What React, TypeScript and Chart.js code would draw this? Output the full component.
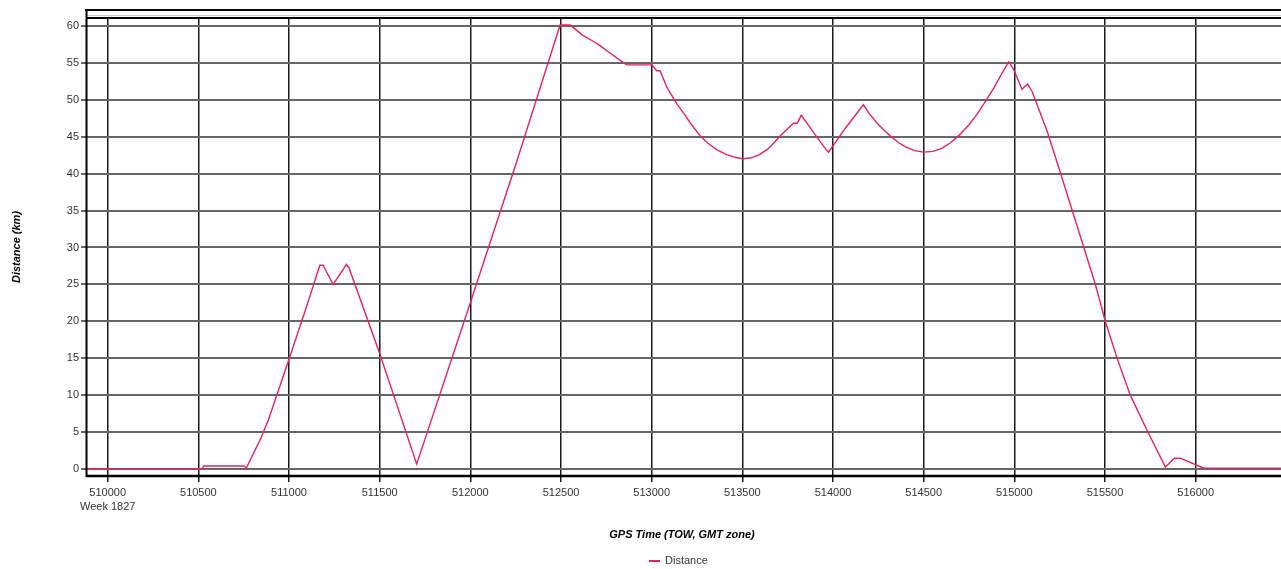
import React, { useEffect, useRef } from "react";
import { Chart, registerables } from "chart.js";

Chart.register(...registerables);

const gpsTime: number[] = [
  509880, 510520, 510530, 510750, 510765, 510839, 510885, 511004, 511090, 511170,
  511188, 511243, 511317, 511330, 511501, 511704, 511998, 512250, 512495, 512550,
  512580, 512620, 512670, 512715, 512770, 512826, 512863, 513001, 513028, 513046,
  513083, 513110, 513140, 513175, 513220, 513267, 513310, 513360, 513410, 513460,
  513500, 513545, 513590, 513640, 513680, 513709, 513782, 513803, 513825, 513900,
  513966, 513975, 514070, 514168, 514200, 514240, 514280, 514316, 514360, 514400,
  514450, 514499, 514550, 514600, 514650, 514700, 514750, 514800, 514849, 514890,
  514930, 514969, 514996, 515042, 515073, 515098, 515180, 515254, 515318, 515382,
  515447, 515502, 515567, 515640, 515741, 515833, 515883, 515915, 516045, 516470,
];

const distanceKm: number[] = [
  0.05, 0.05, 0.45, 0.45, 0.2, 3.9, 6.6, 15.2, 21.5, 27.6,
  27.6, 25.0, 27.7, 27.3, 15.6, 0.7, 22.4, 41.2, 60.1, 60.1,
  59.5, 58.7, 58.0, 57.3, 56.3, 55.3, 54.7, 54.7, 53.9, 53.9,
  51.7, 50.6, 49.4, 48.2, 46.6, 45.1, 44.1, 43.2, 42.6, 42.2,
  42.0, 42.1, 42.5, 43.3, 44.3, 45.1, 46.8, 46.8, 47.9, 45.3,
  43.1, 42.9, 46.2, 49.3, 48.1, 46.9, 45.9, 45.1, 44.2, 43.6,
  43.1, 42.9, 43.0, 43.4, 44.2, 45.3, 46.6, 48.2, 50.1, 51.7,
  53.5, 55.1, 54.1, 51.4, 52.1, 51.1, 45.8, 40.1, 35.1, 30.1,
  25.0, 20.0, 15.0, 10.0, 4.8, 0.3, 1.5, 1.5, 0.15, 0.15,
];

const xTicks: number[] = [510000, 510500, 511000, 511500, 512000, 512500, 513000, 513500, 514000, 514500, 515000, 515500, 516000];
const yTicks: number[] = [0, 5, 10, 15, 20, 25, 30, 35, 40, 45, 50, 55, 60];

const weekLabel = "Week 1827";
const xTitle = "GPS Time (TOW, GMT zone)";
const yTitle = "Distance (km)";
const seriesName = "Distance";
const lineColor = "#e0245e";

const W = 1281;
const H = 569;

const framePlugin = {
  id: "framePlugin",
  afterDraw(chart: any) {
    const ctx = chart.ctx;
    const a = chart.chartArea;
    ctx.save();
    ctx.strokeStyle = "#000";
    ctx.lineWidth = 2;
    ctx.beginPath();
    ctx.moveTo(a.left - 1, 10);
    ctx.lineTo(W, 10);
    ctx.stroke();
    ctx.strokeStyle = "#c8c8c8";
    ctx.lineWidth = 1;
    ctx.beginPath();
    ctx.moveTo(a.left, 15.5);
    ctx.lineTo(W, 15.5);
    ctx.stroke();
    ctx.strokeStyle = "#000";
    ctx.lineWidth = 2;
    ctx.beginPath();
    ctx.moveTo(a.left, a.top);
    ctx.lineTo(W, a.top);
    ctx.stroke();
    ctx.lineWidth = 2;
    ctx.beginPath();
    ctx.moveTo(a.left + 0.5, 9);
    ctx.lineTo(a.left + 0.5, a.bottom + 1);
    ctx.stroke();
    ctx.lineWidth = 2.5;
    ctx.beginPath();
    ctx.moveTo(a.left, a.bottom);
    ctx.lineTo(W, a.bottom);
    ctx.stroke();

    ctx.fillStyle = "#000";
    ctx.font = "italic bold 11px 'Liberation Sans', Arial, sans-serif";
    ctx.textAlign = "center";
    ctx.textBaseline = "middle";
    ctx.fillText(xTitle, 682, 535);
    ctx.save();
    ctx.translate(17, 247);
    ctx.rotate(-Math.PI / 2);
    ctx.fillText(yTitle, 0, 0);
    ctx.restore();

    ctx.strokeStyle = lineColor;
    ctx.lineWidth = 2;
    ctx.beginPath();
    ctx.moveTo(649, 561);
    ctx.lineTo(660, 561);
    ctx.stroke();
    ctx.fillStyle = "#333";
    ctx.font = "11px 'Liberation Sans', Arial, sans-serif";
    ctx.textAlign = "left";
    ctx.fillText(seriesName, 665, 561);
    ctx.restore();
  },
};

export default function App() {
  const ref = useRef<HTMLCanvasElement | null>(null);

  useEffect(() => {
    if (!ref.current) return;
    const points = gpsTime.map((x, i) => ({ x, y: distanceKm[i] }));
    const chart = new Chart(ref.current, {
      type: "line",
      data: {
        datasets: [
          {
            label: seriesName,
            data: points,
            borderColor: lineColor,
            backgroundColor: lineColor,
            borderWidth: 1.4,
            pointRadius: 0,
            tension: 0,
          },
        ],
      },
      options: {
        animation: false,
        responsive: false,
        devicePixelRatio: 1,
        layout: { padding: { top: 18, left: 0, right: 0, bottom: 0 } },
        plugins: { legend: { display: false }, tooltip: { enabled: false } },
        scales: {
          x: {
            type: "linear",
            min: 509880.3,
            max: 516470.6,
            afterBuildTicks: (s: any) => {
              s.ticks = xTicks.map((v) => ({ value: v }));
            },
            afterFit: (s: any) => {
              s.height = 93;
            },
            grid: {
              color: "#1a1a1a",
              lineWidth: 1.5,
              tickLength: 6,
              drawTicks: true,
            },
            border: { display: false },
            ticks: {
              padding: 4,
              color: "#333",
              maxRotation: 0,
              autoSkip: false,
              font: { family: "'Liberation Sans', Arial, sans-serif", size: 11, lineHeight: 1.3 },
              callback: (v: any) => (v === xTicks[0] ? [String(v), weekLabel] : String(v)),
            },
          },
          y: {
            type: "linear",
            min: -0.906,
            max: 61.04,
            afterBuildTicks: (s: any) => {
              s.ticks = yTicks.map((v) => ({ value: v }));
            },
            afterFit: (s: any) => {
              s.width = 86;
            },
            grid: {
              color: "#666",
              lineWidth: 2,
              tickLength: 5,
            },
            border: { display: false },
            ticks: {
              padding: 2,
              color: "#333",
              autoSkip: false,
              font: { family: "'Liberation Sans', Arial, sans-serif", size: 11 },
              callback: (v: any) => String(v),
            },
          },
        },
      },
      plugins: [framePlugin],
    });
    return () => chart.destroy();
  }, []);

  return (
    <div style={{ position: "fixed", left: 0, top: 0, width: W, height: H, background: "#fff" }}>
      <canvas ref={ref} width={W} height={H} style={{ width: W, height: H, display: "block" }} />
    </div>
  );
}
